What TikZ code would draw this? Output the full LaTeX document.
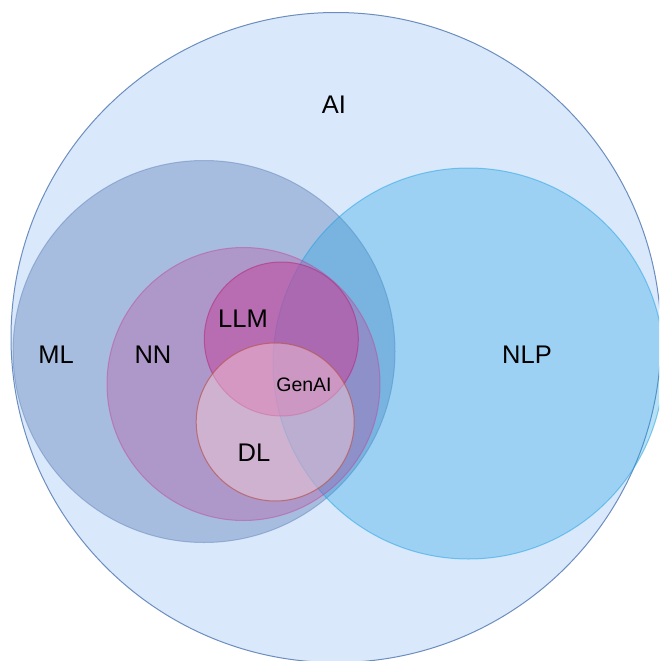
\documentclass[tikz,border=0pt]{standalone}
\usepackage{fontspec}
\setmainfont{Liberation Sans}
\definecolor{aiFill}{HTML}{DAE8FC}
\definecolor{aiLine}{HTML}{6C8EBF}
\definecolor{mlCol}{HTML}{6C8EBF}
\definecolor{nlpCol}{HTML}{1BA1E2}
\definecolor{nnCol}{HTML}{C14298}
\definecolor{llmCol}{HTML}{C24A9E}
\definecolor{llmLine}{HTML}{B0307F}
\definecolor{dlFill}{HTML}{FFDCDC}
\definecolor{dlLine}{HTML}{B85450}
\tikzset{
  setlabel/.style={inner sep=0pt, font=\fontsize{25.5}{30}\selectfont},
  smalllabel/.style={inner sep=0pt, font=\fontsize{19.5}{23}\selectfont},
  ring/.style={line width=1pt},
}
\begin{document}
\begin{tikzpicture}[x=1pt,y=-1pt]
  \useasboundingbox (0,0) rectangle (659,661);
  \fill[white] (0,0) rectangle (659,661);
  \clip (0,0) rectangle (659,661);
  % nested sets, outermost first
  \draw[ring, fill=aiFill, draw=aiLine] (336,337.5) circle (325pt);
  \draw[ring, fill=mlCol, fill opacity=0.47, draw=mlCol, draw opacity=0.55] (204,351.5) circle (191pt);
  \draw[ring, fill=nlpCol, fill opacity=0.32, draw=nlpCol, draw opacity=0.5] (468.5,363.5) circle (195.5pt);
  \draw[ring, fill=nnCol, fill opacity=0.3, draw=nnCol, draw opacity=0.45] (243.5,384) circle (136.5pt);
  \draw[ring, fill=llmCol, fill opacity=0.55, draw=llmLine, draw opacity=0.6] (281.3,339) circle (77pt);
  \draw[ring, fill=dlFill, fill opacity=0.4, draw=dlLine, draw opacity=0.7] (275.2,422) circle (79pt);
  % set labels
  \node[setlabel] (ai)    at (334,105)   {AI};
  \node[setlabel] (ml)    at (56,355)    {ML};
  \node[setlabel] (nn)    at (153,355)   {NN};
  \node[setlabel] (llm)   at (243,319)   {LLM};
  \node[smalllabel] (genai) at (304,385) {GenAI};
  \node[setlabel] (dl)    at (254,453)   {DL};
  \node[setlabel] (nlp)   at (527,355)   {NLP};
\end{tikzpicture}
\end{document}
